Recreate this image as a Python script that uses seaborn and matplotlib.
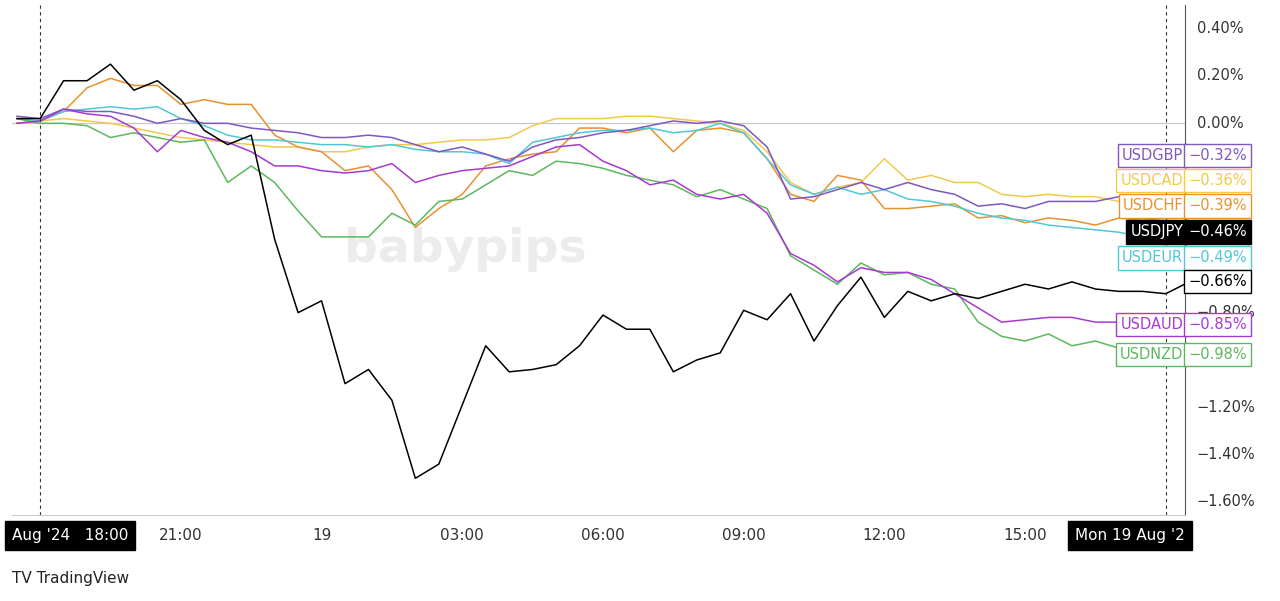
import matplotlib.pyplot as plt
import seaborn as sns
import numpy as np
import pandas as pd

# hours since 18:00 on 18 Aug, half-hour steps
hours = [k * 0.5 for k in range(-1, 50)]

usdjpy = [0.02, 0.02, 0.18, 0.18, 0.25, 0.14, 0.18, 0.10, -0.03, -0.09, -0.05, -0.49, -0.80,
          -0.75, -1.10, -1.04, -1.17, -1.50, -1.44, -1.19, -0.94, -1.05, -1.04, -1.02, -0.94,
          -0.81, -0.87, -0.87, -1.05, -1.00, -0.97, -0.79, -0.83, -0.72, -0.92, -0.77, -0.65,
          -0.82, -0.71, -0.75, -0.72, -0.74, -0.71, -0.68, -0.70, -0.67, -0.70, -0.71, -0.71,
          -0.72, -0.67]
usdgbp = [0.03, 0.02, 0.06, 0.05, 0.05, 0.03, 0.0, 0.02, 0.0, 0.0, -0.02, -0.03, -0.04, -0.06,
          -0.06, -0.05, -0.06, -0.09, -0.12, -0.10, -0.13, -0.16, -0.10, -0.07, -0.06, -0.04,
          -0.03, -0.01, 0.01, 0.0, 0.01, -0.01, -0.10, -0.32, -0.31, -0.28, -0.25, -0.28, -0.25,
          -0.28, -0.30, -0.35, -0.34, -0.36, -0.33, -0.33, -0.33, -0.31, -0.33, -0.33, -0.32]
usdcad = [0.0, 0.01, 0.02, 0.01, 0.0, -0.02, -0.04, -0.06, -0.07, -0.08, -0.09, -0.10, -0.10,
          -0.12, -0.12, -0.10, -0.09, -0.09, -0.08, -0.07, -0.07, -0.06, -0.01, 0.02, 0.02, 0.02,
          0.03, 0.03, 0.02, 0.01, 0.0, -0.03, -0.12, -0.25, -0.30, -0.27, -0.25, -0.15, -0.24,
          -0.22, -0.25, -0.25, -0.30, -0.31, -0.30, -0.31, -0.31, -0.33, -0.33, -0.35, -0.36]
usdchf = [0.0, 0.01, 0.05, 0.15, 0.19, 0.16, 0.16, 0.08, 0.10, 0.08, 0.08, -0.05, -0.10, -0.12,
          -0.20, -0.18, -0.28, -0.44, -0.36, -0.30, -0.18, -0.15, -0.13, -0.12, -0.02, -0.02,
          -0.04, -0.02, -0.12, -0.03, -0.02, -0.04, -0.15, -0.30, -0.33, -0.22, -0.24, -0.36,
          -0.36, -0.35, -0.34, -0.40, -0.39, -0.42, -0.40, -0.41, -0.43, -0.40, -0.41, -0.40, -0.39]
usdeur = [0.02, 0.01, 0.05, 0.06, 0.07, 0.06, 0.07, 0.02, -0.01, -0.05, -0.07, -0.07, -0.08,
          -0.09, -0.09, -0.10, -0.09, -0.11, -0.12, -0.12, -0.13, -0.17, -0.08, -0.06, -0.04,
          -0.03, -0.03, -0.02, -0.04, -0.03, 0.0, -0.04, -0.15, -0.26, -0.30, -0.27, -0.30, -0.28,
          -0.32, -0.33, -0.35, -0.38, -0.40, -0.41, -0.43, -0.44, -0.45, -0.46, -0.48, -0.49, -0.49]
usdaud = [0.0, 0.01, 0.06, 0.04, 0.03, -0.02, -0.12, -0.03, -0.06, -0.08, -0.12, -0.18, -0.18,
          -0.20, -0.21, -0.20, -0.17, -0.25, -0.22, -0.20, -0.19, -0.18, -0.14, -0.10, -0.09,
          -0.16, -0.20, -0.26, -0.24, -0.30, -0.32, -0.30, -0.38, -0.55, -0.60, -0.67, -0.61,
          -0.63, -0.63, -0.66, -0.72, -0.78, -0.84, -0.83, -0.82, -0.82, -0.84, -0.84, -0.86,
          -0.85, -0.85]
usdnzd = [0.02, 0.0, 0.0, -0.01, -0.06, -0.04, -0.06, -0.08, -0.07, -0.25, -0.18, -0.25, -0.37,
          -0.48, -0.48, -0.48, -0.38, -0.43, -0.33, -0.32, -0.26, -0.20, -0.22, -0.16, -0.17,
          -0.19, -0.22, -0.24, -0.26, -0.31, -0.28, -0.32, -0.36, -0.56, -0.62, -0.68, -0.59,
          -0.64, -0.63, -0.68, -0.70, -0.84, -0.90, -0.92, -0.89, -0.94, -0.92, -0.95, -0.94,
          -0.97, -0.98]

pairs = ["USDGBP", "USDCAD", "USDCHF", "USDJPY", "USDEUR", "USDAUD", "USDNZD"]
series = [usdgbp, usdcad, usdchf, usdjpy, usdeur, usdaud, usdnzd]
colors = ["#7e57c2", "#f2c94c", "#e8912f", "#000000", "#4fc8d6", "#a838d6", "#5cb85c"]
last_labels = ["-0.32%", "-0.36%", "-0.39%", "-0.46%", "-0.49%", "-0.85%", "-0.98%"]
label_y = [-0.137, -0.243, -0.349, -0.459, -0.569, -0.851, -0.978]

# price-scale labels left visible (the others sit under the series labels)
y_ticks = [0.4, 0.2, 0.0, -1.2, -1.4, -1.6]
x_ticks = [3, 6, 9, 12, 15, 18, 21]
x_tick_labels = ["21:00", "19", "03:00", "06:00", "09:00", "12:00", "15:00"]

df = pd.concat([pd.DataFrame({"hour": hours, "pct": s, "pair": p})
                for p, s in zip(pairs, series)])

sns.set_style("white")
plt.rcParams["font.family"] = ["DejaVu Sans"]
fig = plt.figure(figsize=(12.8, 6.01), dpi=100)
ax = fig.add_axes([12 / 1280, 86 / 601, 1173 / 1280, 510 / 601])

draw_order = ["USDCAD", "USDCHF", "USDEUR", "USDGBP", "USDNZD", "USDAUD", "USDJPY"]
sns.lineplot(data=df, x="hour", y="pct", hue="pair", hue_order=draw_order,
             palette=dict(zip(pairs, colors)), linewidth=1.1, legend=False, ax=ax)

ax.set_xlim(-0.6, 24.41)
ax.set_ylim(-1.655, 0.50)
ax.axhline(0, color="#c8c8c8", lw=0.9, zorder=0)
ax.axvline(0, color="#333333", lw=0.8, ls=(0, (3, 3)))
ax.axvline(24, color="#333333", lw=0.8, ls=(0, (3, 3)))
ax.set_xticks([])
ax.set_yticks([])
ax.set_xlabel("")
ax.set_ylabel("")
for s in ["top", "left"]:
    ax.spines[s].set_visible(False)
ax.spines["right"].set_color("#555555")
ax.spines["bottom"].set_color("#cccccc")

# watermark
ax.text(0.283, 0.52, "babypips", transform=ax.transAxes, fontsize=34, color="#ececec",
        fontweight="bold", ha="left", va="center", zorder=0)

# right price scale
for v in y_ticks:
    ax.text(1.01, v, f"{v:.2f}%".replace("-", "\u2212"), transform=ax.get_yaxis_transform(),
            fontsize=10.5, color="#333333", va="center", ha="left", zorder=1)

# series labels
for p, c, lab, y in zip(pairs, colors, last_labels, label_y):
    dark = p == "USDJPY"
    fg = "white" if dark else c
    bg = "black" if dark else "white"
    ax.text(0.9985, y, p, transform=ax.get_yaxis_transform(), fontsize=10.5, color=fg,
            ha="right", va="center", zorder=10,
            bbox=dict(boxstyle="square,pad=0.28", fc=bg, ec=c, lw=1))
    ax.text(1.003, y, lab.replace("-", "\u2212"), transform=ax.get_yaxis_transform(),
            fontsize=10.5, color=fg, ha="left", va="center", zorder=10,
            bbox=dict(boxstyle="square,pad=0.28", fc=bg, ec=c, lw=1))
ax.text(1.003, -0.67, "\u22120.66%", transform=ax.get_yaxis_transform(), fontsize=10.5,
        color="black", ha="left", va="center", zorder=10,
        bbox=dict(boxstyle="square,pad=0.28", fc="white", ec="black", lw=1))
# partly covered -0.80% scale label
ax.text(1.01, -0.80, "\u22120.80%", transform=ax.get_yaxis_transform(), fontsize=10.5,
        color="#333333", va="center", ha="left", zorder=1)

# time scale
for t, lab in zip(x_ticks, x_tick_labels):
    ax.text(t, -0.04, lab, transform=ax.get_xaxis_transform(), fontsize=11,
            color="#333333", ha="center", va="center")
ax.text(0.0, -0.04, "Aug '24   18:00", transform=ax.transAxes, fontsize=11, color="white",
        ha="left", va="center", bbox=dict(boxstyle="square,pad=0.45", fc="black", ec="black"))
ax.text(24.41, -0.04, "Mon 19 Aug '2", transform=ax.get_xaxis_transform(), fontsize=11,
        color="white", ha="right", va="center",
        bbox=dict(boxstyle="square,pad=0.45", fc="black", ec="black"))

fig.text(12 / 1280, 1 - 578 / 601, "TV TradingView", fontsize=11, color="#222222",
         va="center", ha="left")

fig.savefig("out.png", dpi=100)
